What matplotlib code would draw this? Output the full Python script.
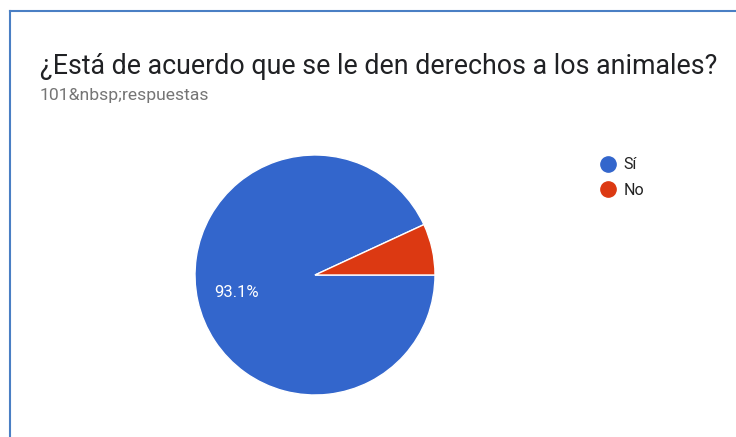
import matplotlib.pyplot as plt
from matplotlib.lines import Line2D

plt.rcParams["font.family"] = ["Roboto", "DejaVu Sans"]

TITLE = "¿Está de acuerdo que se le den derechos a los animales?"
SUBTITLE = "101&nbsp;respuestas"
labels = ["Sí", "No"]
shares = [93.1, 6.9]
colors = ["#3366cc", "#dc3912"]

W, H = 736, 437
fig = plt.figure(figsize=(W / 100, H / 100), dpi=100)

# card border (left and top edges visible)
fig.add_artist(Line2D([9.5 / W, 9.5 / W], [0, 1 - 11 / H], color="#4a7fc4", linewidth=1.5))
fig.add_artist(Line2D([9.5 / W, 1], [1 - 11 / H, 1 - 11 / H], color="#4a7fc4", linewidth=1.5))

fig.text(40 / W, 1 - 74 / H, TITLE, fontsize=19.3, color="#202124", va="baseline")
fig.text(40 / W, 1 - 100 / H, SUBTITLE, fontsize=12.6, color="#757575", va="baseline")

cx, cy, r = 315, 275, 120
ax = fig.add_axes([(cx - r) / W, (H - cy - r) / H, 2 * r / W, 2 * r / H])
start = shares[1] / 100 * 360
wedges, texts, autotexts = ax.pie(
    shares,
    colors=colors,
    startangle=start,
    counterclock=True,
    radius=1.0,
    autopct=lambda p: f"{p:.1f}%" if p > 10 else "",
    pctdistance=0.67,
    wedgeprops={"edgecolor": "white", "linewidth": 1.0},
    textprops={"color": "white", "fontsize": 12},
)
ax.set_xlim(-1, 1)
ax.set_ylim(-1, 1)
ax.set_aspect("equal")

handles = [
    Line2D([], [], marker="o", linestyle="", markersize=11, color=c) for c in colors
]
fig.legend(
    handles,
    labels,
    loc="upper left",
    bbox_to_anchor=(584 / W, 1 - 143 / H),
    frameon=False,
    fontsize=11.5,
    handletextpad=0.35,
    labelspacing=0.65,
    handlelength=1.2,
    labelcolor="#222222",
)

fig.savefig("out.png", dpi=100)
